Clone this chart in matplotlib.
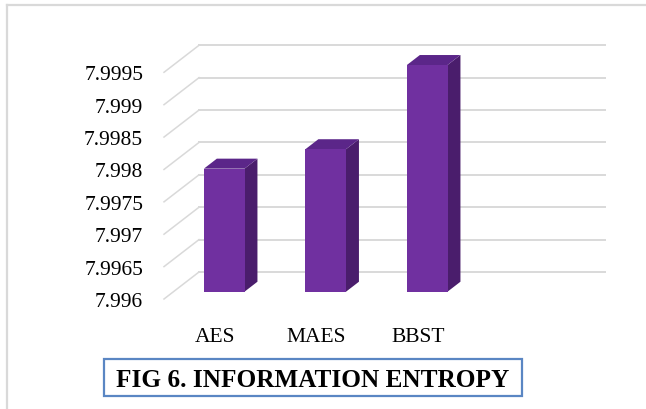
import numpy as np
import matplotlib
matplotlib.use("Agg")
import matplotlib.pyplot as plt
from matplotlib.patches import Polygon, Rectangle
from matplotlib.lines import Line2D

methods = ["AES", "MAES", "BBST"]
entropy = [7.9979, 7.9982, 7.9995]
yticks = [7.996, 7.9965, 7.997, 7.9975, 7.998, 7.9985, 7.999, 7.9995]
ytick_labels = ["7.996", "7.9965", "7.997", "7.9975", "7.998", "7.9985", "7.999", "7.9995"]

front_col = "#7030A0"
top_col = "#5B2689"
side_col = "#4A1D6C"
grid_col = "#D9D9D9"

fig = plt.figure(figsize=(6.46, 4.10), dpi=100)
ax = fig.add_axes([164 / 646, 110 / 410, 406 / 646, 226.7 / 410])
ax.set_xlim(-0.5, 3.5)
ax.set_ylim(yticks[0], yticks[-1])
for s in ax.spines.values():
    s.set_visible(False)
ax.patch.set_visible(False)

# depth vector of the floor (35 px right, 27 px up) expressed in data units
p0 = ax.transData.transform((0, yticks[0]))
q = ax.transData.inverted().transform(p0 + np.array([35.0, 27.0]))
ddx, ddy = q[0] - 0, q[1] - yticks[0]
x0, x1 = ax.get_xlim()

# back wall and left wall grid
for t in yticks:
    ax.add_line(Line2D([x0 + ddx, x1 + ddx], [t + ddy, t + ddy], color=grid_col,
                       lw=1.4, clip_on=False, zorder=1))
    ax.add_line(Line2D([x0, x0 + ddx], [t, t + ddy], color=grid_col,
                       lw=1.1, clip_on=False, zorder=1))

# 3d columns
w = 0.4
d0, d1 = 0.27, 0.64
base = yticks[0]
for i, v in enumerate(entropy):
    xl, xr = i - w / 2, i + w / 2
    def pt(x, y, d):
        return (x + ddx * d, y + ddy * d)
    side = [pt(xr, base, d0), pt(xr, base, d1), pt(xr, v, d1), pt(xr, v, d0)]
    top = [pt(xl, v, d0), pt(xr, v, d0), pt(xr, v, d1), pt(xl, v, d1)]
    front = [pt(xl, base, d0), pt(xr, base, d0), pt(xr, v, d0), pt(xl, v, d0)]
    ax.add_patch(Polygon(side, closed=True, fc=side_col, ec="none", clip_on=False, zorder=3))
    ax.add_patch(Polygon(top, closed=True, fc=top_col, ec="none", clip_on=False, zorder=3))
    ax.add_patch(Polygon(front, closed=True, fc=front_col, ec="none", clip_on=False, zorder=4))

ax.set_yticks(yticks, ytick_labels)
ax.set_xticks(range(len(methods)), methods)
ax.tick_params(axis="both", length=0, labelsize=15.5)
ax.tick_params(axis="y", pad=15)
ax.tick_params(axis="x", pad=20.5)
for lab in ax.get_xticklabels() + ax.get_yticklabels():
    lab.set_fontfamily("Liberation Serif")

# chart area border
fig.add_artist(Line2D([7 / 646, 7 / 646], [0, 1 - 5.5 / 410], transform=fig.transFigure,
                      color=grid_col, lw=1.6))
fig.add_artist(Line2D([7 / 646, 1], [1 - 5.5 / 410, 1 - 5.5 / 410], transform=fig.transFigure,
                      color=grid_col, lw=1.6))

# caption box
fig.add_artist(Rectangle((104 / 646, 1 - 397 / 410), 417.5 / 646, 37 / 410,
                         transform=fig.transFigure, fc="white", ec="#5A86C3", lw=1.6))
fig.text(312.5 / 646, 1 - 380.5 / 410, "FIG 6. INFORMATION ENTROPY", ha="center", va="center",
         fontsize=18.2, fontweight="bold", family="Liberation Serif")

fig.savefig("out.png", dpi=100)
